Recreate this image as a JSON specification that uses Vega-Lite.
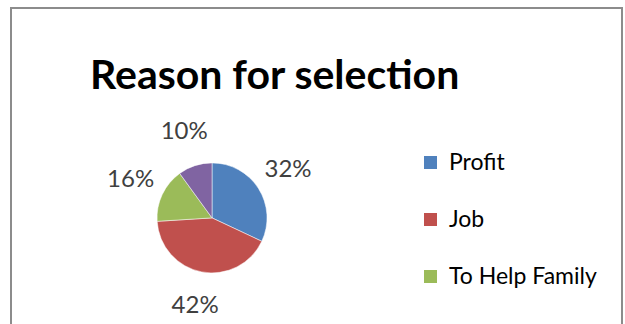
{
  "$schema": "https://vega.github.io/schema/vega-lite/v6.json",
  "width": 611,
  "height": 330,
  "autosize": "none",
  "padding": {"left": 11, "top": 8, "right": 3, "bottom": 0},
  "background": "white",
  "config": {"view": {"stroke": "#8c8c8c", "strokeWidth": 2}, "font": "Lato"},
  "title": {"text": "Reason for selection", "fontSize": 41, "fontWeight": "bold", "font": "Lato", "color": "#000000", "anchor": "start", "frame": "group", "dx": 79, "offset": -122, "baseline": "alphabetic"},
  "data": {"values": [
    {"reason": "Profit", "share": 32, "rank": 1},
    {"reason": "Job", "share": 42, "rank": 2},
    {"reason": "To Help Family", "share": 16, "rank": 3},
    {"reason": "Other", "share": 10, "rank": 4}
  ]},
  "transform": [{"calculate": "datum.share + '%'", "as": "label"}],
  "encoding": {
    "theta": {"field": "share", "type": "quantitative", "stack": true},
    "order": {"field": "rank", "type": "quantitative"},
    "x": {"datum": 0.329, "type": "quantitative", "scale": {"domain": [0, 1]}, "axis": null},
    "y": {"datum": 0.364, "type": "quantitative", "scale": {"domain": [0, 1]}, "axis": null}
  },
  "layer": [
    {
      "mark": {"type": "arc", "outerRadius": 55, "stroke": "white", "strokeWidth": 0.5},
      "encoding": {
        "color": {"field": "reason", "type": "nominal",
          "scale": {"domain": ["Profit", "Job", "To Help Family", "Other"], "range": ["#4F81BD", "#C0504D", "#9BBB59", "#8064A2"]},
          "legend": {"orient": "none", "legendX": 408, "legendY": 143, "title": null, "values": ["Profit", "Job", "To Help Family"], "symbolType": "square", "symbolSize": 169, "symbolStrokeWidth": 0, "labelFontSize": 23, "labelFont": "Lato", "labelColor": "#000000", "rowPadding": 33, "labelOffset": 7}}
      }
    },
    {
      "mark": {"type": "text", "radius": 90, "fontSize": 24, "font": "Lato", "color": "#404040"},
      "encoding": {"text": {"field": "label", "type": "nominal"}}
    }
  ]
}
